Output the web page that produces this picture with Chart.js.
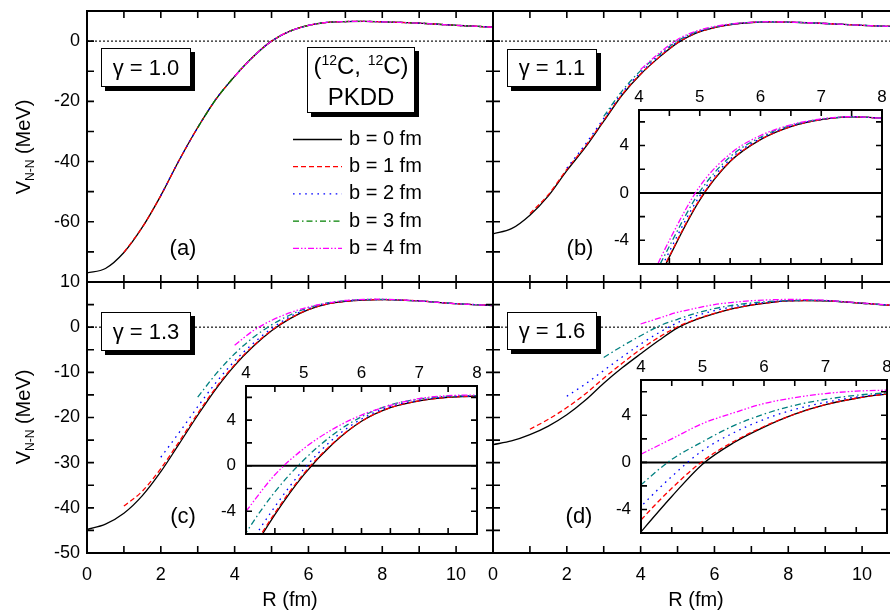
<!DOCTYPE html>
<html>
<head>
<meta charset="utf-8">
<script src="https://cdn.jsdelivr.net/npm/chart.js@4.4.1/dist/chart.umd.min.js"></script>
<style>
  html, body { margin: 0; padding: 0; background: #fff; overflow: hidden; }
  #wrap { position: relative; width: 890px; height: 615px; overflow: hidden;
          font-family: "Liberation Sans", Arial, Helvetica, sans-serif; color: #000; }
  #wrap canvas { position: absolute; }
  .box { position: absolute; z-index: 10; background: #fff; border: 1px solid #000;
         box-shadow: 4px 4px 0 #000; box-sizing: border-box; text-align: center; font-size: 22px; }
  .tag { position: absolute; z-index: 10; font-size: 22px; transform: translate(-50%, -50%); white-space: nowrap; }
  .ytitle { position: absolute; z-index: 10; width: 140px; height: 24px; line-height: 24px;
            text-align: center; font-size: 20px; transform: rotate(-90deg); white-space: nowrap; }
  .ytitle sub { font-size: 12px; line-height: 0; vertical-align: -4px; }
  .box sup { font-size: 14px; line-height: 0; vertical-align: 9px; }
</style>
</head>
<body>
<div id="wrap">
  <div class="ytitle" style="left:-47px; top:135px;">V<sub>N-N</sub> (MeV)</div>
  <div class="ytitle" style="left:-47px; top:405px;">V<sub>N-N</sub> (MeV)</div>

  <div class="box" style="left:101px; top:48px; width:90px; height:39px; line-height:37px;">&gamma; = 1.0</div>
  <div class="box" style="left:507px; top:49px; width:90px; height:38px; line-height:36px;">&gamma; = 1.1</div>
  <div class="box" style="left:101px; top:312px; width:90px; height:39px; line-height:37px;">&gamma; = 1.3</div>
  <div class="box" style="left:507px; top:312px; width:90px; height:38px; line-height:36px;">&gamma; = 1.6</div>
  <div class="box" style="left:307px; top:47px; width:108px; height:66px; font-size:24px; line-height:31px; padding-top:2px;">(<sup>12</sup>C, <sup>12</sup>C)<br>PKDD</div>

  <div class="tag" style="left:183px; top:248px;">(a)</div>
  <div class="tag" style="left:580px; top:248px;">(b)</div>
  <div class="tag" style="left:183px; top:516px;">(c)</div>
  <div class="tag" style="left:579px; top:516px;">(d)</div>
</div>
<script>
// R grid (fm) shared by all curves
const radius = [0, 0.5, 1, 1.5, 2, 2.5, 3, 3.5, 4, 4.5, 5, 5.5, 6, 6.5, 7, 7.5, 8, 8.5, 9, 9.5, 10, 10.5, 11];
const legendLabels = ['b = 0 fm', 'b = 1 fm', 'b = 2 fm', 'b = 3 fm', 'b = 4 fm'];

// panel (a), gamma = 1.0
const va0 = [-77, -75.5, -70.2, -61.8, -51.3, -39.5, -28.7, -19.2, -11.7, -5.2, 0, 3.3, 5.2, 6.2, 6.5, 6.55, 6.4, 6.2, 5.95, 5.6, 5.25, 4.95, 4.6];
const va1 = [null, null, -70.2, -61.8, -51.3, -39.5, -28.7, -19.2, -11.7, -5.2, 0, 3.3, 5.2, 6.2, 6.5, 6.55, 6.4, 6.2, 5.95, 5.6, 5.25, 4.95, 4.6];
const va2 = [null, null, null, null, -51.3, -39.5, -28.7, -19.2, -11.7, -5.2, 0, 3.3, 5.2, 6.2, 6.5, 6.55, 6.4, 6.2, 5.95, 5.6, 5.25, 4.95, 4.6];
const va3 = [null, null, null, null, null, null, -28.7, -19.2, -11.7, -5.2, 0, 3.3, 5.2, 6.2, 6.5, 6.55, 6.4, 6.2, 5.95, 5.6, 5.25, 4.95, 4.6];
const va4 = [null, null, null, null, null, null, null, null, -11.7, -5.2, 0, 3.3, 5.2, 6.2, 6.5, 6.55, 6.4, 6.2, 5.95, 5.6, 5.25, 4.95, 4.6];

// panel (b), gamma = 1.1
const vb0 = [-64, -62.3, -57.8, -51.4, -43, -35.3, -26.6, -17.9, -11.0, -5.4, -0.6, 2.65, 4.5, 5.6, 6.18, 6.42, 6.3, 6.1, 5.85, 5.55, 5.25, 5.0, 4.8];
const vb1 = [null, null, -57.3, -51.0, -42.6, -34.9, -26.3, -17.7, -10.9, -5.35, -0.55, 2.68, 4.5, 5.6, 6.18, 6.42, 6.3, 6.1, 5.85, 5.55, 5.25, 5.0, 4.8];
const vb2 = [null, null, null, null, -42.2, -34.3, -25.7, -17.1, -10.4, -4.95, -0.25, 2.85, 4.6, 5.65, 6.2, 6.42, 6.3, 6.1, 5.85, 5.55, 5.25, 5.0, 4.8];
const vb3 = [null, null, null, null, null, null, -25.0, -16.5, -9.8, -4.5, 0.1, 3.05, 4.7, 5.7, 6.22, 6.43, 6.3, 6.1, 5.85, 5.55, 5.25, 5.0, 4.8];
const vb4 = [null, null, null, null, null, null, null, null, -9.4, -4.0, 0.55, 3.3, 4.85, 5.75, 6.25, 6.44, 6.3, 6.1, 5.85, 5.55, 5.25, 5.0, 4.8];

// panel (c), gamma = 1.3
const vc0 = [-44.8, -43.6, -41.2, -37.3, -32.0, -25.8, -19.5, -13.6, -8.5, -4.3, -0.8, 1.9, 3.9, 5.1, 5.7, 6.0, 6.1, 6.0, 5.8, 5.5, 5.2, 5.0, 4.8];
const vc1 = [null, null, -39.6, -36.3, -31.3, -25.3, -19.1, -13.3, -8.3, -4.15, -0.7, 1.95, 3.9, 5.1, 5.7, 6.0, 6.1, 6.0, 5.8, 5.5, 5.2, 5.0, 4.8];
const vc2 = [null, null, null, null, -28.8, -23.3, -17.6, -12.2, -7.5, -3.6, -0.3, 2.3, 4.1, 5.2, 5.75, 6.05, 6.1, 6.0, 5.8, 5.5, 5.2, 5.0, 4.8];
const vc3 = [null, null, null, null, null, null, -15.5, -10.3, -5.9, -2.3, 0.5, 2.7, 4.3, 5.35, 5.85, 6.1, 6.15, 6.0, 5.8, 5.5, 5.2, 5.0, 4.8];
const vc4 = [null, null, null, null, null, null, null, null, -4.0, -0.8, 1.5, 3.2, 4.45, 5.3, 5.9, 6.15, 6.2, 6.05, 5.8, 5.5, 5.2, 5.0, 4.8];

// panel (d), gamma = 1.6
const vd0 = [-26, -25.2, -23.8, -21.9, -19.4, -16.2, -12.4, -9.0, -5.9, -2.9, -0.15, 1.65, 3.0, 4.1, 4.9, 5.45, 5.8, 5.9, 5.85, 5.6, 5.3, 5.0, 4.8];
const vd1 = [null, null, -22.6, -20.4, -17.8, -14.8, -11.3, -8.0, -4.9, -2.2, 0.1, 1.75, 3.05, 4.1, 4.9, 5.45, 5.8, 5.9, 5.85, 5.6, 5.3, 5.0, 4.8];
const vd2 = [null, null, null, null, -15.3, -12.6, -9.6, -6.6, -3.75, -1.2, 1.0, 2.5, 3.65, 4.5, 5.1, 5.55, 5.82, 5.92, 5.87, 5.6, 5.3, 5.0, 4.8];
const vd3 = [null, null, null, null, null, null, -6.7, -4.2, -1.9, 0.25, 1.75, 3.1, 4.1, 4.85, 5.35, 5.7, 5.9, 5.95, 5.88, 5.62, 5.3, 5.0, 4.8];
const vd4 = [null, null, null, null, null, null, null, null, 0.7, 2.0, 3.3, 4.2, 5.0, 5.5, 5.85, 6.05, 6.13, 6.1, 5.95, 5.65, 5.35, 5.05, 4.85];

// tick labels and tick marks
const xLabelsMain = [0, 2, 4, 6, 8, 10];
const yLabelsTop = [0, -20, -40, -60];
const yLabelsBottom = [10, 0, -10, -20, -30, -40, -50];
const xLabelsInset = [4, 5, 6, 7, 8];
const yLabelsInset = [-4, 0, 4];
const xMarksMain = [0, 1, 2, 3, 4, 5, 6, 7, 8, 9, 10, 11];
const yMarksTop = [-80, -70, -60, -50, -40, -30, -20, -10, 0, 10];
const yMarksBottom = [-50, -45, -40, -35, -30, -25, -20, -15, -10, -5, 0, 5, 10];
const xMarksInset = [4, 4.5, 5, 5.5, 6, 6.5, 7, 7.5, 8];
const yMarksInset = [-6, -4, -2, 0, 2, 4, 6];

// styles
const colorsA = ['#000000', '#ff0000', '#0000ff', '#008000', '#ff00ff'];
const colorsB = ['#000000', '#ff0000', '#0000ff', '#008080', '#ff00ff'];
const dashes = [[], [5, 3], [1.6, 4.5], [6, 3, 1.5, 3], [6, 2, 1.5, 2, 1.5, 2]];

Chart.defaults.font.family = '"Liberation Sans", Arial, Helvetica, sans-serif';
Chart.defaults.color = '#000';

const wrap = document.getElementById('wrap');

function addCanvas(left, top, w, h) {
    const c = document.createElement('canvas');
    c.width = w;
    c.height = h;
    c.style.left = left + 'px';
    c.style.top = top + 'px';
    c.style.width = w + 'px';
    c.style.height = h + 'px';
    wrap.appendChild(c);
    return c;
}

// inward ticks, frame, zero line and white inset background
const frameTicks = {
    id: 'frameTicks',
    beforeDraw(chart, args, o) {
        if (!o.fill) return;
        const a = chart.chartArea, ctx = chart.ctx;
        ctx.save();
        ctx.fillStyle = '#fff';
        ctx.fillRect(a.left, a.top, a.right - a.left, a.bottom - a.top);
        ctx.restore();
    },
    beforeDatasetsDraw(chart, args, o) {
        const a = chart.chartArea, ctx = chart.ctx;
        const y0 = chart.scales.y.getPixelForValue(0);
        ctx.save();
        ctx.beginPath();
        ctx.moveTo(a.left, y0);
        ctx.lineTo(a.right, y0);
        ctx.setLineDash(o.zeroDash);
        ctx.lineWidth = o.zeroWidth;
        ctx.strokeStyle = o.zeroColor;
        ctx.stroke();
        ctx.restore();
    },
    afterDatasetsDraw(chart, args, o) {
        const a = chart.chartArea, ctx = chart.ctx;
        const sx = chart.scales.x, sy = chart.scales.y;
        ctx.save();
        ctx.strokeStyle = '#000';
        ctx.lineWidth = 1.6;
        ctx.beginPath();
        o.xMarks.forEach(v => {
            const px = sx.getPixelForValue(v);
            ctx.moveTo(px, a.top); ctx.lineTo(px, a.top + o.len);
            ctx.moveTo(px, a.bottom); ctx.lineTo(px, a.bottom - o.len);
        });
        o.yMarks.forEach(v => {
            const py = sy.getPixelForValue(v);
            ctx.moveTo(a.left, py); ctx.lineTo(a.left + o.len, py);
            ctx.moveTo(a.right, py); ctx.lineTo(a.right - o.len, py);
        });
        ctx.stroke();
        ctx.lineWidth = 2;
        ctx.strokeRect(a.left, a.top, a.right - a.left, a.bottom - a.top);
        ctx.restore();
    }
};

// legend of panel (a), drawn from the dataset styles
const legendBox = {
    id: 'legendBox',
    afterDatasetsDraw(chart, args, o) {
        if (!o.show) return;
        const ctx = chart.ctx;
        chart.data.datasets.forEach((ds, k) => {
            const y = o.top + k * o.step;
            ctx.save();
            ctx.strokeStyle = ds.borderColor;
            ctx.lineWidth = ds.borderWidth;
            ctx.setLineDash(ds.borderDash);
            ctx.beginPath();
            ctx.moveTo(o.x0, y);
            ctx.lineTo(o.x1, y);
            ctx.stroke();
            ctx.setLineDash([]);
            ctx.fillStyle = '#000';
            ctx.font = '20px "Liberation Sans", Arial, sans-serif';
            ctx.textBaseline = 'middle';
            ctx.fillText(ds.label, o.tx, y);
            ctx.restore();
        });
    }
};

function buildSets(list, colors) {
    return list.map((vals, k) => ({
        label: legendLabels[k],
        data: radius.map((r, i) => ({ x: r, y: vals[i] })).filter(p => p.y !== null),
        borderColor: colors[k],
        borderDash: dashes[k],
        borderWidth: 1.3,
        pointRadius: 0,
        cubicInterpolationMode: 'monotone',
        fill: false,
        order: list.length - 1 - k
    }));
}

function fixedTicks(values) {
    return scale => { scale.ticks = values.map(v => ({ value: v })); };
}

function drawPanel(cfg) {
    const cv = addCanvas(cfg.left, cfg.top, cfg.w, cfg.h);
    const showX = !!cfg.xLabels, showY = !!cfg.yLabels;
    return new Chart(cv, {
        type: 'line',
        data: { datasets: buildSets(cfg.series, cfg.colors) },
        options: {
            responsive: false,
            animation: false,
            events: [],
            layout: { padding: cfg.pad },
            plugins: {
                legend: { display: false },
                tooltip: { enabled: false },
                frameTicks: cfg.frame,
                legendBox: cfg.legend || { show: false }
            },
            scales: {
                x: {
                    type: 'linear', min: cfg.xmin, max: cfg.xmax,
                    position: cfg.xPos || 'bottom',
                    display: showX,
                    grid: { display: false, drawTicks: false },
                    border: { display: false },
                    ticks: { font: { size: cfg.tickSize }, padding: cfg.xPad, maxRotation: 0, autoSkip: false },
                    afterBuildTicks: fixedTicks(cfg.xLabels || []),
                    afterFit: s => {
                        if (showX) s.height = cfg.xHeight;
                        s.paddingLeft = 0;
                        s.paddingRight = 0;
                    },
                    title: cfg.xTitle
                        ? { display: true, text: cfg.xTitle, font: { size: 20 }, padding: { top: 0, bottom: 3 } }
                        : { display: false }
                },
                y: {
                    type: 'linear', min: cfg.ymin, max: cfg.ymax,
                    display: showY,
                    grid: { display: false, drawTicks: false },
                    border: { display: false },
                    ticks: { font: { size: cfg.tickSize }, padding: cfg.yPad, autoSkip: false },
                    afterBuildTicks: fixedTicks(cfg.yLabels || []),
                    afterFit: s => {
                        if (showY) s.width = cfg.yWidth;
                        s.paddingTop = 0;
                        s.paddingBottom = 0;
                    }
                }
            }
        },
        plugins: [frameTicks, legendBox]
    });
}

const mainFrameTop = { xMarks: xMarksMain, yMarks: yMarksTop, len: 7, zeroDash: [2, 2], zeroColor: '#111', zeroWidth: 1.2, fill: false };
const mainFrameBottom = { xMarks: xMarksMain, yMarks: yMarksBottom, len: 7, zeroDash: [2, 2], zeroColor: '#111', zeroWidth: 1.2, fill: false };
const insetFrame = { xMarks: xMarksInset, yMarks: yMarksInset, len: 6, zeroDash: [], zeroColor: '#000', zeroWidth: 2, fill: true };

// (a)
drawPanel({
    left: 0, top: 0, w: 500, h: 292, pad: { top: 11, right: 7, bottom: 10, left: 0 },
    series: [va0, va1, va2, va3, va4], colors: colorsA,
    xmin: 0, xmax: 11, ymin: -80, ymax: 10,
    yLabels: yLabelsTop, yWidth: 87, yPad: 7, tickSize: 18,
    frame: mainFrameTop,
    legend: { show: true, x0: 293, x1: 342, tx: 349, top: 139.5, step: 27.2 }
});
// (b)
drawPanel({
    left: 480, top: 0, w: 430, h: 292, pad: { top: 11, right: 11, bottom: 10, left: 13 },
    series: [vb0, vb1, vb2, vb3, vb4], colors: colorsB,
    xmin: 0, xmax: 11, ymin: -80, ymax: 10, tickSize: 18,
    frame: mainFrameTop
});
// (c)
drawPanel({
    left: 0, top: 266, w: 500, h: 349, pad: { top: 16, right: 7, bottom: 0, left: 0 },
    series: [vc0, vc1, vc2, vc3, vc4], colors: colorsB,
    xmin: 0, xmax: 11, ymin: -50, ymax: 10,
    xLabels: xLabelsMain, xHeight: 62, xPad: 11, xTitle: 'R (fm)',
    yLabels: yLabelsBottom, yWidth: 87, yPad: 7, tickSize: 18,
    frame: mainFrameBottom
});
// (d)
drawPanel({
    left: 480, top: 266, w: 430, h: 349, pad: { top: 16, right: 11, bottom: 0, left: 13 },
    series: [vd0, vd1, vd2, vd3, vd4], colors: colorsB,
    xmin: 0, xmax: 11, ymin: -50, ymax: 10,
    xLabels: xLabelsMain, xHeight: 62, xPad: 11, xTitle: 'R (fm)', tickSize: 18,
    frame: mainFrameBottom
});

// insets: chart area = zoom of the same curves, R 4..8, V -6..7
function drawInset(left, top, areaW, areaH, series) {
    drawPanel({
        left: left - 34, top: top - 30, w: 34 + areaW + 8, h: 30 + areaH + 6,
        pad: { top: 0, right: 8, bottom: 6, left: 0 },
        series: series, colors: colorsB,
        xmin: 4, xmax: 8, ymin: -6, ymax: 7,
        xLabels: xLabelsInset, xPos: 'top', xHeight: 30, xPad: 2,
        yLabels: yLabelsInset, yWidth: 34, yPad: 10, tickSize: 17,
        frame: insetFrame
    });
}
drawInset(639, 110, 243, 154, [vb0, vb1, vb2, vb3, vb4]);
drawInset(246, 386, 231, 148, [vc0, vc1, vc2, vc3, vc4]);
drawInset(641, 380, 246, 153, [vd0, vd1, vd2, vd3, vd4]);
</script>
</body>
</html>
